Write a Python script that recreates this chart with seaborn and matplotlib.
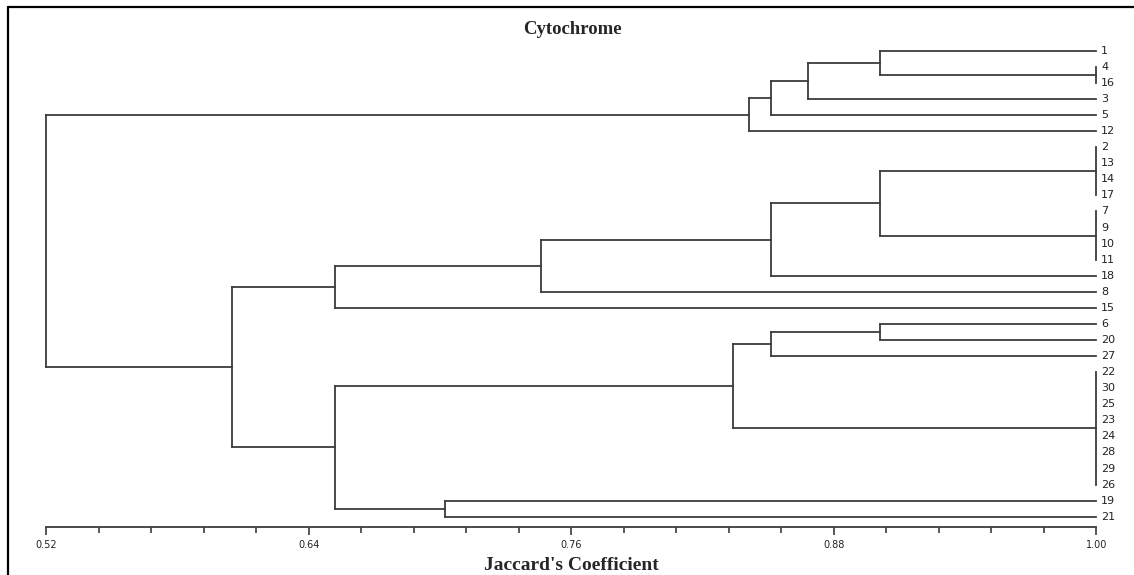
"""
Cytochrome dendrogram (Jaccard's coefficient) drawn with seaborn line segments
"""

import numpy as np
import pandas as pd
import matplotlib.pyplot as plt
from matplotlib.lines import Line2D
import seaborn as sns

# leaf order, top to bottom
leaves = ["1", "4", "16", "3", "5", "12", "2", "13", "14", "17", "7", "9", "10", "11",
          "18", "8", "15", "6", "20", "27", "22", "30", "25", "23", "24", "28", "29",
          "26", "19", "21"]

# clusters: name, members (leaves or earlier clusters), similarity where they join
cluster_names = ["A", "B", "C", "D", "E", "F", "G", "H", "I", "J", "K",
                 "L", "M", "N", "O", "P", "Q", "R", "S"]
cluster_members = [
    ["4", "16"],
    ["1", "A"],
    ["B", "3"],
    ["C", "5"],
    ["D", "12"],
    ["2", "13", "14", "17"],
    ["7", "9", "10", "11"],
    ["F", "G"],
    ["H", "18"],
    ["I", "8"],
    ["J", "15"],
    ["6", "20"],
    ["L", "27"],
    ["22", "30", "25", "23", "24", "28", "29", "26"],
    ["M", "N"],
    ["19", "21"],
    ["O", "P"],
    ["K", "Q"],
    ["E", "R"],
]
cluster_sim = [1.00, 0.901, 0.868, 0.851, 0.841, 1.00, 1.00, 0.901, 0.851, 0.746,
               0.652, 0.901, 0.851, 1.00, 0.834, 0.702, 0.652, 0.605, 0.52]

major_ticks = [0.52, 0.64, 0.76, 0.88, 1.00]
minor_step = 0.024

LINE = "#3c3c3c"

# work out node positions and build the segments
pos_x = {lab: 1.0 for lab in leaves}
pos_y = {lab: float(i) for i, lab in enumerate(leaves)}
rows = []
seg = 0
for name, members, sim in zip(cluster_names, cluster_members, cluster_sim):
    ys = [pos_y[m] for m in members]
    # vertical connector
    rows += [(seg, sim, min(ys)), (seg, sim, max(ys))]
    seg += 1
    # horizontal arms from each member
    for m in members:
        if pos_x[m] != sim:
            rows += [(seg, pos_x[m], pos_y[m]), (seg, sim, pos_y[m])]
            seg += 1
    pos_x[name] = sim
    pos_y[name] = (min(ys) + max(ys)) / 2
segs = pd.DataFrame(rows, columns=["seg", "x", "y"])

sns.set_style("white")
plt.rcParams["font.family"] = ["DejaVu Sans"]

W, H = 1134, 575
fig = plt.figure(figsize=(W / 100, H / 100), dpi=100)
ax = fig.add_axes([46.5 / W, (H - 527) / H, 1050 / W, (527 - 40) / H])

sns.lineplot(data=segs, x="x", y="y", units="seg", estimator=None, sort=False,
             color=LINE, linewidth=1.3, solid_capstyle="projecting", ax=ax)
for ln in ax.lines:
    ln.set_clip_on(False)

ax.set_xlim(0.52, 1.00)
ax.set_ylim(29.64, -0.67)
ax.set_xlabel("")
ax.set_ylabel("")
ax.set_yticks([])
ax.set_xticks(major_ticks)
ax.set_xticklabels([f"{t:.2f}" for t in major_ticks])
ax.set_xticks(np.arange(0.52, 1.0001, minor_step), minor=True)
ax.tick_params(axis="x", which="major", direction="out", length=6, width=1.2,
               pad=3, labelsize=7, colors=LINE, labelcolor="#222222", bottom=True)
ax.tick_params(axis="x", which="minor", direction="out", length=4.5, width=1.2,
               colors=LINE, bottom=True)
for side in ["top", "right", "left"]:
    ax.spines[side].set_visible(False)
ax.spines["bottom"].set_color(LINE)
ax.spines["bottom"].set_linewidth(1.3)

# leaf labels
for i, lab in enumerate(leaves):
    ax.annotate(lab, xy=(1.0, i), xytext=(3.2, 0), textcoords="offset points",
                ha="left", va="center", fontsize=8, color="#222222",
                annotation_clip=False)

serif = ["Liberation Serif", "DejaVu Serif"]
fig.text(572 / W, 1 - 34 / H, "Cytochrome", ha="center", va="baseline",
         family=serif, fontweight="bold", fontsize=13.5)
fig.text(571.5 / W, 1 - 570 / H, "Jaccard's Coefficient", ha="center", va="baseline",
         family=serif, fontweight="bold", fontsize=14)

# outer frame (top and left edges only)
fig.add_artist(Line2D([8 / W, 1.0], [1 - 6.5 / H, 1 - 6.5 / H], color="black",
                      linewidth=1.6, transform=fig.transFigure))
fig.add_artist(Line2D([8 / W, 8 / W], [0, 1 - 6.5 / H], color="black",
                      linewidth=1.6, transform=fig.transFigure))

fig.savefig("out.png", dpi=100)
